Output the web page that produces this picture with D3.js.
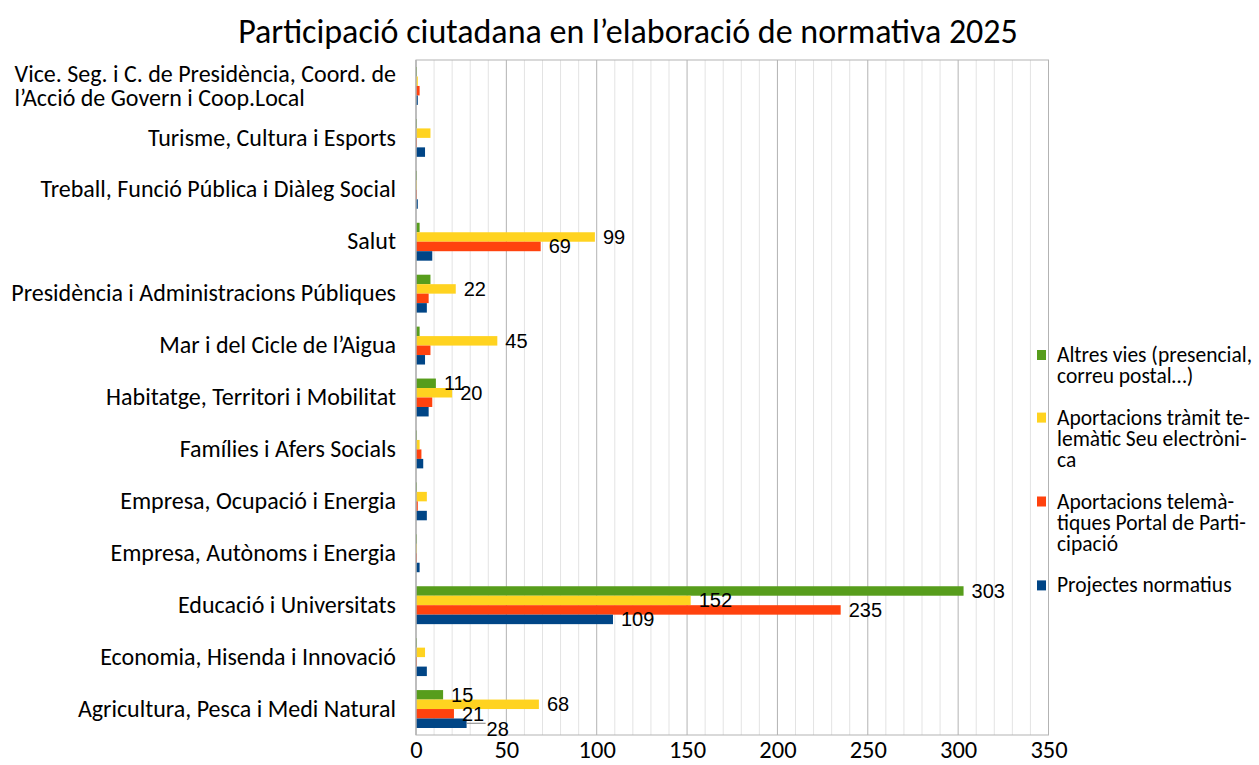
<!DOCTYPE html>
<html>
<head>
<meta charset="utf-8">
<script src="https://cdn.jsdelivr.net/npm/d3@7/dist/d3.min.js"></script>
<style>
  body { margin: 0; background: #fff; }
</style>
</head>
<body>
<div id="chart"></div>
<script>
// categories, top to bottom as drawn
const categories = [
  "Vice. Seg. i C. de Presidència, Coord. de l’Acció de Govern i Coop.Local",
  "Turisme, Cultura i Esports",
  "Treball, Funció Pública i Diàleg Social",
  "Salut",
  "Presidència i Administracions Públiques",
  "Mar i del Cicle de l’Aigua",
  "Habitatge, Territori i Mobilitat",
  "Famílies i Afers Socials",
  "Empresa, Ocupació i Energia",
  "Empresa, Autònoms i Energia",
  "Educació i Universitats",
  "Economia, Hisenda i Innovació",
  "Agricultura, Pesca i Medi Natural",
];

const seriesNames = [
  "Altres vies (presencial, correu postal…)",
  "Aportacions tràmit telemàtic Seu electrònica",
  "Aportacions telemàtiques Portal de Participació",
  "Projectes normatius",
];
// legend text as it is hyphenated in the original
const legendLines = [
  ["Altres vies (presencial,", "correu postal…)"],
  ["Aportacions tràmit te-", "lemàtic Seu electròni-", "ca"],
  ["Aportacions telemà-", "tiques Portal de Parti-", "cipació"],
  ["Projectes normatius"],
];

const altres    = [0, 0, 0, 2, 8, 2, 11, 0, 0, 0, 303, 0, 15];
const tramit    = [1, 8, 0, 99, 22, 45, 20, 2, 6, 0, 152, 5, 68];
const portal    = [2, 0, 0, 69, 7, 8, 9, 3, 1, 0, 235, 0, 21];
const projectes = [1, 5, 1, 9, 6, 5, 7, 4, 6, 2, 109, 6, 28];

const xTicks = [0, 50, 100, 150, 200, 250, 300, 350];
const colors = ["#579d1c", "#ffd320", "#ff420e", "#004586"];
const title = "Participació ciutadana en l’elaboració de normativa 2025";
// labels pushed aside (with a leader line) to avoid a collision
const displacedLabels = [["Agricultura, Pesca i Medi Natural", 3]];

const width = 1259, height = 765;
const plot = { left: 416, right: 1048.5, top: 60, bottom: 735 };
const uiFont = "Carlito, 'Open Sans', Lato, sans-serif";
const numFont = "'Liberation Sans', Arial, sans-serif";

const series = [altres, tramit, portal, projectes];
const rows = categories.map((c, i) => ({
  cat: c,
  values: series.map((s, k) => ({ k, v: s[i], cat: c })),
}));

const x = d3.scaleLinear().domain([0, 350]).range([plot.left, plot.right]);
const y = d3.scaleBand().domain(categories).range([plot.top, plot.bottom])
  .paddingInner(0.27).paddingOuter(0.135);
const ySub = d3.scaleBand().domain(d3.range(series.length)).range([0, y.bandwidth()]);

const svg = d3.select("#chart").append("svg")
  .attr("width", width).attr("height", height)
  .attr("viewBox", [0, 0, width, height])
  .style("background", "#fff");

svg.append("text")
  .attr("x", 628).attr("y", 31)
  .attr("text-anchor", "middle")
  .attr("dominant-baseline", "central")
  .style("font-family", uiFont).style("font-size", "34px").style("fill", "#000")
  .text(title);

// grid: minor every 10, major every 50
svg.append("g").selectAll("line")
  .data(d3.range(10, 350, 10).filter(v => v % 50 !== 0))
  .join("line")
  .attr("x1", d => x(d)).attr("x2", d => x(d))
  .attr("y1", plot.top).attr("y2", plot.bottom)
  .attr("stroke", "#e3e3e3").attr("stroke-width", 1);
svg.append("g").selectAll("line")
  .data(xTicks.slice(1, -1))
  .join("line")
  .attr("x1", d => x(d)).attr("x2", d => x(d))
  .attr("y1", plot.top).attr("y2", plot.bottom)
  .attr("stroke", "#b3b3b3").attr("stroke-width", 1);

svg.append("rect")
  .attr("x", plot.left).attr("y", plot.top)
  .attr("width", plot.right - plot.left).attr("height", plot.bottom - plot.top)
  .attr("fill", "none").attr("stroke", "#b3b3b3").attr("stroke-width", 1);

// bars
const groups = svg.append("g").selectAll("g")
  .data(rows)
  .join("g")
  .attr("transform", d => `translate(0,${y(d.cat)})`);

groups.selectAll("rect")
  .data(d => d.values)
  .join("rect")
  .attr("x", x(0))
  .attr("y", d => ySub(d.k))
  .attr("width", d => Math.max(x(d.v) - x(0), 1))
  .attr("height", ySub.bandwidth())
  .attr("fill", d => colors[d.k]);

// axis line on the left, over the bars' start
svg.append("line")
  .attr("x1", plot.left).attr("x2", plot.left)
  .attr("y1", plot.top).attr("y2", plot.bottom)
  .attr("stroke", "#b3b3b3").attr("stroke-width", 1.5);

// value labels (only the larger values are labelled)
const isDisplaced = d => displacedLabels.some(([c, k]) => c === d.cat && k === d.k);
const labelled = groups.selectAll("g.lbl")
  .data(d => d.values.filter(v => v.v > 10))
  .join("g").attr("class", "lbl");

labelled.filter(d => isDisplaced(d)).append("line")
  .attr("x1", d => x(d.v)).attr("x2", d => x(d.v) + 19)
  .attr("y1", d => ySub(d.k) + ySub.bandwidth() / 2)
  .attr("y2", d => ySub(d.k) + ySub.bandwidth() / 2)
  .attr("stroke", "#808080").attr("stroke-width", 1);

labelled.append("text")
  .attr("x", d => x(d.v) + (isDisplaced(d) ? 20 : 8))
  .attr("y", d => ySub(d.k) + ySub.bandwidth() / 2 + (isDisplaced(d) ? 6 : 0))
  .attr("dominant-baseline", "central")
  .style("font-family", numFont).style("font-size", "20px").style("fill", "#000")
  .text(d => d.v);

// x axis tick labels
const xAxis = svg.append("g")
  .attr("transform", `translate(0,${plot.bottom})`)
  .call(d3.axisBottom(x).tickValues(xTicks).tickSize(0).tickPadding(6));
xAxis.select(".domain").remove();
xAxis.selectAll("text")
  .style("font-family", uiFont).style("font-size", "24.5px").style("fill", "#000");

// category axis with wrapped labels
const yAxis = svg.append("g")
  .attr("transform", `translate(${plot.left},0)`)
  .call(d3.axisLeft(y).tickSize(0).tickPadding(20));
yAxis.select(".domain").remove();
yAxis.selectAll("text")
  .style("font-family", uiFont).style("font-size", "24px").style("fill", "#000")
  .each(function (d) {
    const t = d3.select(this);
    const maxW = 392;
    const words = d.split(" ");
    const lines = [];
    let cur = [];
    t.text("");
    const probe = t.append("tspan");
    for (const w of words) {
      probe.text([...cur, w].join(" "));
      if (cur.length && probe.node().getComputedTextLength() > maxW) {
        lines.push(cur.join(" "));
        cur = [w];
      } else cur.push(w);
    }
    lines.push(cur.join(" "));
    probe.remove();
    if (lines.length === 1) { t.text(d); return; }
    // block right-aligned, lines left-aligned inside it
    const widths = lines.map(l => { t.text(l); return this.getComputedTextLength(); });
    const blockW = d3.max(widths);
    t.text("").attr("text-anchor", "start").attr("dy", null);
    const lh = 24;
    lines.forEach((l, i) => {
      t.append("tspan")
        .attr("x", -20 - blockW)
        .attr("y", (i - (lines.length - 1) / 2) * lh)
        .attr("dominant-baseline", "central")
        .text(l);
    });
  });

// legend
let ly = 355;
const legend = svg.append("g");
legendLines.forEach((lines, k) => {
  const g = legend.append("g").attr("transform", `translate(1037,${ly})`);
  g.append("rect").attr("x", 0).attr("y", -5).attr("width", 9).attr("height", 10)
    .attr("fill", colors[k]);
  g.append("title").text(seriesNames[k]);
  lines.forEach((l, i) => {
    g.append("text")
      .attr("x", 20).attr("y", i * 21.3)
      .attr("dominant-baseline", "central")
      .style("font-family", uiFont).style("font-size", "21.5px").style("fill", "#000")
      .text(l);
  });
  ly += lines.length * 21.3 + 20;
});
</script>
</body>
</html>
